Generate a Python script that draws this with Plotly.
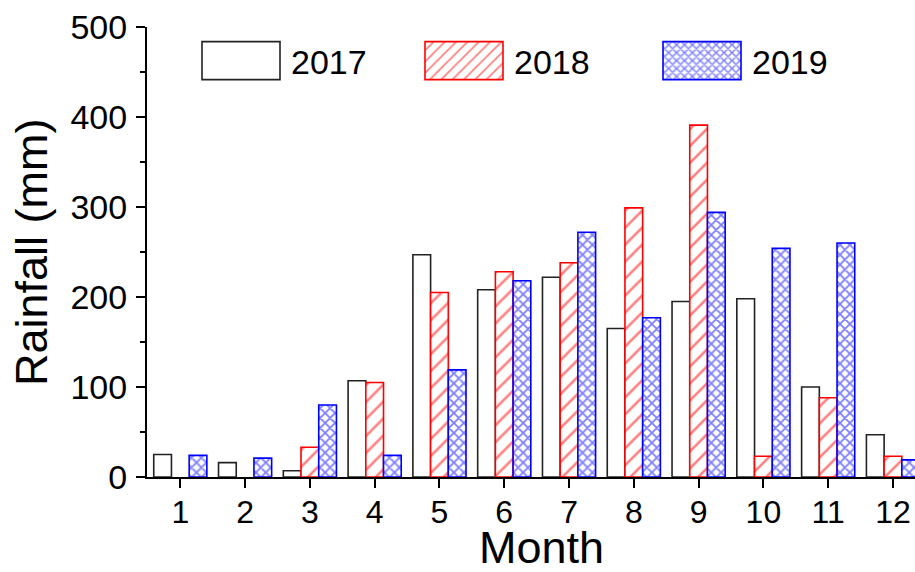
import plotly.graph_objects as go

months = [1, 2, 3, 4, 5, 6, 7, 8, 9, 10, 11, 12]
month_labels = ["1", "2", "3", "4", "5", "6", "7", "8", "9", "10", "11", "12"]
rain_2017 = [25, 16, 7, 107, 247, 208, 222, 165, 195, 198, 100, 47]
rain_2018 = [None, None, 33, 105, 205, 228, 238, 299, 391, 23, 88, 23]
rain_2019 = [24, 21, 80, 24, 119, 218, 272, 177, 294, 254, 260, 19]
y_ticks = [0, 100, 200, 300, 400, 500]
x_title = "Month"
y_title = "Rainfall (mm)"

FONT = "Arial, Liberation Sans, sans-serif"

fig = go.Figure()
fig.add_trace(go.Bar(
    x=months, y=rain_2017, name="2017", legend="legend", showlegend=True,
    marker=dict(color="white", line=dict(color="#222222", width=1.6)),
))
fig.add_trace(go.Bar(
    x=months, y=rain_2018, name="2018", legend="legend2", showlegend=True,
    marker=dict(color="white", line=dict(color="#ff0000", width=1.6),
                pattern=dict(shape="/", fgcolor="#ff0000", bgcolor="white",
                             size=12, solidity=0.22, fillmode="overlay")),
))
fig.add_trace(go.Bar(
    x=months, y=rain_2019, name="2019", legend="legend3", showlegend=True,
    marker=dict(color="white", line=dict(color="#0000ff", width=1.6),
                pattern=dict(shape="x", fgcolor="#0000ff", bgcolor="white",
                             size=7, solidity=0.45, fillmode="overlay")),
))

PL, PR, PT, PB = 147, 915, 27, 477


def lx(px):
    return (px - PL) / (PR - PL)


def ly(py):
    return (PB - py) / (PB - PT)


leg_common = dict(xref="paper", yref="paper", xanchor="left", yanchor="top",
                  font=dict(family=FONT, size=34, color="black"),
                  bgcolor="rgba(0,0,0,0)", borderwidth=0, tracegroupgap=0)

fig.update_layout(
    width=915, height=572, autosize=False, showlegend=True,
    margin=dict(l=PL, r=915 - PR, t=PT, b=572 - PB, autoexpand=False),
    plot_bgcolor="white", paper_bgcolor="white",
    barmode="group", bargap=0.18, bargroupgap=0,
    font=dict(family=FONT, color="black"),
    legend=dict(x=lx(251), y=ly(32), **leg_common),
    legend2=dict(x=lx(474), y=ly(32), **leg_common),
    legend3=dict(x=lx(712), y=ly(32), **leg_common),
    xaxis=dict(
        range=[0.486, 12.34], tickvals=months, ticktext=month_labels, tickangle=0,
        showline=True, linecolor="black", linewidth=2,
        ticks="outside", ticklen=9, tickwidth=2, tickcolor="black",
        ticklabelstandoff=-3,
        tickfont=dict(family=FONT, size=32), showgrid=False, zeroline=False,
    ),
    yaxis=dict(
        range=[0, 500], tickvals=y_ticks,
        showline=True, linecolor="black", linewidth=2,
        ticks="outside", ticklen=9, tickwidth=2, tickcolor="black",
        ticklabelstandoff=2,
        minor=dict(dtick=50, ticks="outside", ticklen=5, tickwidth=2, tickcolor="black"),
        tickfont=dict(family=FONT, size=34), showgrid=False, zeroline=False,
    ),
    annotations=[
        dict(text=x_title, xref="paper", yref="paper", x=lx(541), y=ly(547),
             xanchor="center", yanchor="middle", showarrow=False,
             font=dict(family=FONT, size=45, color="black")),
        dict(text=y_title, xref="paper", yref="paper", x=lx(31), y=ly(252),
             xanchor="center", yanchor="middle", showarrow=False, textangle=-90,
             font=dict(family=FONT, size=45, color="black")),
    ],
)

post = """
document.body.style.margin='0';
var gd = document.getElementById('{plot_id}');
function fixLegend(){
  gd.querySelectorAll('.scrollbox').forEach(function(e){
    e.removeAttribute('clip-path');
  });
  gd.querySelectorAll('.legendpoints path').forEach(function(p){
    p.setAttribute('d','M9,19H-69V-19H9Z');
  });
}
fixLegend();
gd.on('plotly_afterplot', fixLegend);
"""

fig.write_html("out.html", post_script=post, config={"displayModeBar": False})
